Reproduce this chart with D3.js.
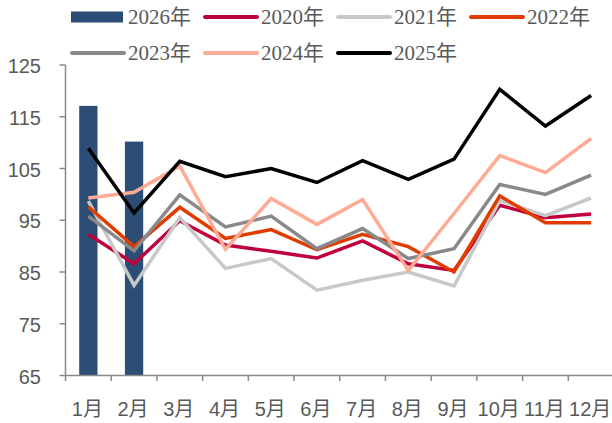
<!DOCTYPE html>
<html>
<head>
<meta charset="utf-8">
<script src="https://cdn.jsdelivr.net/npm/d3@7"></script>
<style>
  html, body { margin: 0; padding: 0; background: #fff; }
</style>
</head>
<body>
<script>
const months = ["1月","2月","3月","4月","5月","6月","7月","8月","9月","10月","11月","12月"];
const bar2026 = [117.1, 110.2];
const s2020 = [92.3, 86.6, 94.9, 90.2, 89.0, 87.7, 91.0, 86.6, 85.3, 97.9, 95.5, 96.2];
const s2021 = [98.7, 82.4, 95.5, 85.7, 87.6, 81.5, 83.4, 85.0, 82.3, 98.8, 95.9, 99.3];
const s2022 = [97.6, 89.9, 97.5, 91.5, 93.2, 89.3, 92.3, 89.9, 85.0, 99.7, 94.5, 94.5];
const s2023 = [95.8, 89.1, 99.9, 93.7, 95.8, 89.5, 93.4, 87.6, 89.5, 101.9, 100.0, 103.7];
const s2024 = [99.3, 100.4, 105.5, 89.4, 99.2, 94.2, 99.0, 85.3, 96.3, 107.5, 104.2, 110.8];
const s2025 = [108.9, 96.4, 106.4, 103.4, 105.0, 102.3, 106.5, 102.9, 106.8, 120.3, 113.2, 119.1];
const yTicks = [65, 75, 85, 95, 105, 115, 125];

const lineSeries = [
  {name: "2020年", values: s2020, color: "#C0003C"},
  {name: "2021年", values: s2021, color: "#C8C8C8"},
  {name: "2022年", values: s2022, color: "#E03C00"},
  {name: "2023年", values: s2023, color: "#898989"},
  {name: "2024年", values: s2024, color: "#FFAA94"},
  {name: "2025年", values: s2025, color: "#000000"}
];
const barColor = "#2C4D75";
const axisColor = "#898989";
const textColor = "#595959";

const width = 612, height = 423;

const svg = d3.select("body").append("svg")
  .attr("width", width)
  .attr("height", height);

const x = d3.scaleBand()
  .domain(months)
  .range([65.5, 614])
  .padding(0);

const y = d3.scaleLinear()
  .domain([65, 125])
  .range([375.5, 65]);

// bars for 2026
svg.append("g")
  .selectAll("rect")
  .data(bar2026)
  .join("rect")
    .attr("x", (d, i) => x(months[i]) + x.bandwidth() * 0.3)
    .attr("y", d => y(d))
    .attr("width", x.bandwidth() * 0.4)
    .attr("height", d => y(65) - y(d))
    .attr("fill", barColor);

// lines
const line = d3.line()
  .x((d, i) => x(months[i]) + x.bandwidth() / 2)
  .y(d => y(d));

svg.append("g")
  .selectAll("path")
  .data(lineSeries)
  .join("path")
    .attr("d", d => line(d.values))
    .attr("fill", "none")
    .attr("stroke", d => d.color)
    .attr("stroke-width", 3.5)
    .attr("stroke-linejoin", "miter");

// y axis
const yAxis = svg.append("g");
yAxis.append("line")
  .attr("x1", 65.5).attr("x2", 65.5)
  .attr("y1", y(125)).attr("y2", y(65))
  .attr("stroke", axisColor).attr("stroke-width", 1.5);
yAxis.selectAll(".tick")
  .data(yTicks)
  .join("line")
    .attr("x1", 59.5).attr("x2", 65.5)
    .attr("y1", d => y(d)).attr("y2", d => y(d))
    .attr("stroke", axisColor).attr("stroke-width", 1.5);
yAxis.selectAll("text")
  .data(yTicks)
  .join("text")
    .attr("x", 41)
    .attr("y", d => y(d) + 1)
    .attr("dy", "0.35em")
    .attr("text-anchor", "end")
    .style("font-family", "'Liberation Sans', Arial, sans-serif")
    .style("font-size", "20px")
    .style("fill", textColor)
    .text(d => d);

// x axis
const xAxis = svg.append("g");
xAxis.append("line")
  .attr("x1", 65.5).attr("x2", 614)
  .attr("y1", 375.5).attr("y2", 375.5)
  .attr("stroke", axisColor).attr("stroke-width", 1.5);
xAxis.selectAll(".tick")
  .data(months)
  .join("line")
    .attr("x1", d => x(d)).attr("x2", d => x(d))
    .attr("y1", 375.5).attr("y2", 381)
    .attr("stroke", axisColor).attr("stroke-width", 1.5);
xAxis.selectAll("text")
  .data(months)
  .join("text")
    .attr("x", d => x(d) + x.bandwidth() / 2 - 1)
    .attr("y", 409)
    .attr("dy", "0.35em")
    .attr("text-anchor", "middle")
    .style("font-family", "'Liberation Sans', Arial, 'Noto Sans CJK SC', sans-serif")
    .style("font-size", "20px")
    .style("fill", textColor)
    .text(d => d);

// legend
const legendItems = [{name: "2026年", color: barColor, type: "bar"}]
  .concat(lineSeries.map(s => ({name: s.name, color: s.color, type: "line"})));

const legend = svg.append("g")
  .selectAll("g")
  .data(legendItems)
  .join("g")
    .attr("transform", (d, i) => `translate(${71 + (i % 4) * 133}, ${i < 4 ? 17 : 53})`);

legend.filter(d => d.type === "bar")
  .append("rect")
    .attr("x", 0).attr("y", -5.5)
    .attr("width", 52).attr("height", 11)
    .attr("fill", d => d.color);

legend.filter(d => d.type === "line")
  .append("line")
    .attr("x1", 1).attr("x2", 53)
    .attr("y1", 0).attr("y2", 0)
    .attr("stroke", d => d.color)
    .attr("stroke-width", 4)
    .attr("stroke-linecap", "round");

legend.append("text")
  .attr("x", 57)
  .attr("y", 0)
  .attr("dy", "0.35em")
  .style("font-family", "'Liberation Serif', 'Times New Roman', 'Noto Sans CJK SC', serif")
  .style("font-size", "21px")
  .style("fill", textColor)
  .text(d => d.name);
</script>
</body>
</html>
